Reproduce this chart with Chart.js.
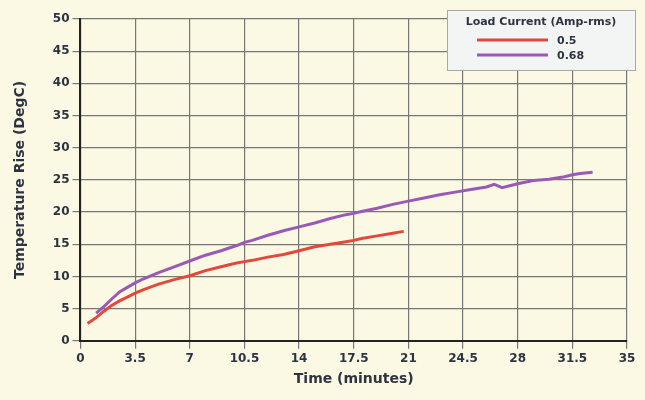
<!DOCTYPE html><html><head><meta charset="utf-8">
<script src="https://cdn.jsdelivr.net/npm/chart.js@4"></script>
<style>html,body{margin:0;background:#fbf9e4}#w{width:645px;height:400px}</style></head><body>
<div id="w"><canvas id="c"></canvas></div>
<script>
const seriesNames=["0.5","0.68"];
const redX=[0.45,1,1.5,2,2.5,3,3.5,4,5,6,7,8,9,10,10.5,11,12,13,14,15,16,17,17.5,18,19,20,20.7];
const redY=[2.7,3.6,4.6,5.5,6.2,6.8,7.4,7.9,8.8,9.5,10.1,10.9,11.5,12.1,12.3,12.5,13,13.4,14,14.6,15,15.4,15.6,15.9,16.3,16.7,17.0];
const purX=[1,1.5,2,2.5,3,3.5,4,5,6,7,8,9,10,10.5,11,12,13,14,15,16,17,17.5,18,19,20,21,22,23,24,25,26,26.5,27,28,29,30,31,31.5,32,32.8];
const purY=[4.3,5.3,6.5,7.6,8.3,9.0,9.6,10.6,11.5,12.4,13.3,14.0,14.8,15.3,15.6,16.4,17.1,17.7,18.3,19.0,19.6,19.8,20.1,20.6,21.2,21.7,22.2,22.7,23.1,23.5,23.9,24.3,23.8,24.4,24.9,25.1,25.5,25.8,26.0,26.2];
const xTicks=[0,3.5,7,10.5,14,17.5,21,24.5,28,31.5,35];
const colors=["#e4483a","#9b59b6"];
const F="'DejaVu Sans'";
const legendPlugin={id:'lg',afterDraw(ch){const c=ch.ctx;c.save();
c.fillStyle='#f3f4f4';c.strokeStyle='#a8a8a8';c.lineWidth=1;
c.fillRect(447.5,10.5,188,60);c.strokeRect(447.5,10.5,188,60);
c.fillStyle='#2c3440';c.font="bold 11px "+F;c.textBaseline='middle';c.textAlign='center';
c.fillText('Load Current (Amp-rms)',541,22);c.textAlign='left';
seriesNames.forEach((n,i)=>{const y=40+i*15;c.strokeStyle=colors[i];c.lineWidth=3;c.beginPath();c.moveTo(477,y);c.lineTo(548,y);c.stroke();c.fillText(n,557,y+1);});
c.restore();}};
new Chart(document.getElementById('c'),{type:'line',
data:{datasets:[
{label:seriesNames[0],data:redX.map((x,i)=>({x,y:redY[i]})),borderColor:colors[0],borderWidth:3,pointRadius:0,tension:0},
{label:seriesNames[1],data:purX.map((x,i)=>({x,y:purY[i]})),borderColor:colors[1],borderWidth:3,pointRadius:0,tension:0}]},
options:{responsive:true,maintainAspectRatio:false,animation:false,
layout:{padding:{top:19,right:18,left:12,bottom:12}},
plugins:{legend:{display:false},tooltip:{enabled:false}},
scales:{
x:{type:'linear',min:0,max:35,afterBuildTicks(a){a.ticks=xTicks.map(v=>({value:v}));},
grid:{color:'#777',lineWidth:1.2},border:{color:'#222',width:2},
ticks:{color:'#2c3440',font:{family:F,size:12,weight:'bold'},maxRotation:0},
title:{display:true,text:'Time (minutes)',color:'#2c3440',font:{family:F,size:14,weight:'bold'},padding:{top:2,bottom:0}}},
y:{min:0,max:50,ticks:{stepSize:5,color:'#2c3440',font:{family:F,size:12,weight:'bold'}},
grid:{color:'#777',lineWidth:1.2},border:{color:'#222',width:2},
title:{display:true,text:'Temperature Rise (DegC)',color:'#2c3440',font:{family:F,size:14,weight:'bold'},padding:{top:0,bottom:21}}}}},
plugins:[legendPlugin]});
</script></body></html>
